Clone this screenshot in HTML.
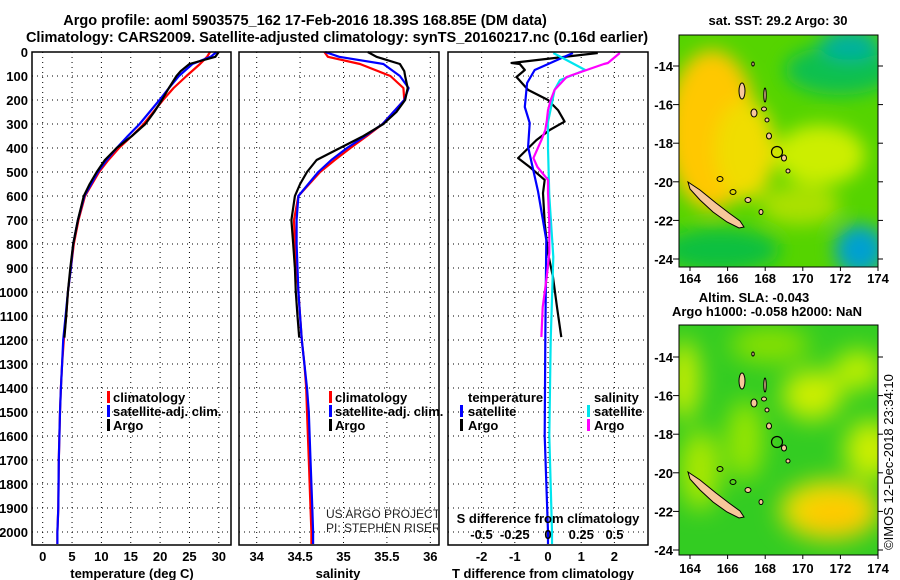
<!DOCTYPE html>
<html><head><meta charset="utf-8">
<style>
body{margin:0;background:#fff;}
svg{display:block;font-family:"Liberation Sans",Arial,sans-serif;}
.b{font-weight:bold;font-size:13px;}
.t{font-weight:bold;font-size:14.5px;}
</style></head>
<body>
<svg id="fig" width="900" height="580" viewBox="0 0 900 580" xmlns="http://www.w3.org/2000/svg">
<text class="t" x="305" y="25" text-anchor="middle">Argo profile: aoml 5903575_162 17-Feb-2016 18.39S 168.85E (DM data)</text>
<text class="t" x="337" y="42" text-anchor="middle">Climatology: CARS2009. Satellite-adjusted climatology: synTS_20160217.nc (0.16d earlier)</text>
<g id="panels"></g>
<defs>
<filter id="blr" x="-50%" y="-50%" width="200%" height="200%"><feGaussianBlur stdDeviation="9"/></filter>
<filter id="blr2" x="-50%" y="-50%" width="200%" height="200%"><feGaussianBlur stdDeviation="12"/></filter>
<clipPath id="cm1"><rect x="679" y="35" width="199" height="232"/></clipPath>
<clipPath id="cm2"><rect x="679" y="325" width="199" height="230"/></clipPath>
</defs>
<text class="b" x="778" y="25" text-anchor="middle">sat. SST: 29.2 Argo: 30</text>
<g clip-path="url(#cm1)">
<rect x="679" y="35" width="199" height="232" fill="#55d400"/>
<g filter="url(#blr)">
<ellipse cx="712" cy="130" rx="45" ry="80" fill="#ffc800"/>
<ellipse cx="745" cy="150" rx="30" ry="50" fill="#f0dd00"/>
<ellipse cx="820" cy="155" rx="45" ry="30" fill="#ccee00"/>
<ellipse cx="840" cy="70" rx="55" ry="25" fill="#10c050"/>
<ellipse cx="850" cy="45" rx="30" ry="15" fill="#00b0a0"/>
<ellipse cx="720" cy="250" rx="60" ry="22" fill="#10c040"/>
<ellipse cx="860" cy="250" rx="25" ry="25" fill="#00a0d0"/>
<ellipse cx="800" cy="205" rx="40" ry="20" fill="#aae000"/>
</g>
</g>
<rect x="679" y="35" width="199" height="232" fill="none" stroke="#000"/>
<g id="isl1"></g>
<text class="b" x="754" y="302" text-anchor="middle">Altim. SLA: -0.043</text>
<text class="b" x="767" y="316" text-anchor="middle">Argo h1000: -0.058 h2000: NaN</text>
<g clip-path="url(#cm2)">
<rect x="679" y="325" width="199" height="230" fill="#33cc22"/>
<g filter="url(#blr2)">
<ellipse cx="684" cy="380" rx="15" ry="40" fill="#ccee00"/>
<ellipse cx="745" cy="440" rx="18" ry="40" fill="#99e600"/>
<ellipse cx="812" cy="395" rx="30" ry="25" fill="#ccee00"/>
<ellipse cx="858" cy="370" rx="25" ry="20" fill="#bbee00"/>
<ellipse cx="870" cy="450" rx="25" ry="30" fill="#ccee00"/>
<ellipse cx="700" cy="470" rx="20" ry="40" fill="#aae800"/>
<ellipse cx="830" cy="510" rx="50" ry="30" fill="#eedd00"/>
<ellipse cx="835" cy="515" rx="35" ry="18" fill="#ffc800"/>
<ellipse cx="770" cy="345" rx="40" ry="18" fill="#88e000"/>
</g>
</g>
<rect x="679" y="325" width="199" height="230" fill="none" stroke="#000"/>
<g id="isl2"></g>
<g id="mapaxes"></g>
<text x="893" y="462" transform="rotate(-90 893 462)" text-anchor="middle" font-size="13">©IMOS 12-Dec-2018 23:34:10</text>
</svg>
<script>
// ---- data (depth in dbar) ----
const tDepth=[0,20,50,100,150,200,300,350,400,450,500,600,700,800,900,1000,1100,1200,1300,1400,1500,1700,1900,2000,2050];
const tClim=[28.5,28,26.8,24.5,22.3,20.5,17.2,15.2,13,11.2,9.6,7.2,6.1,5.3,4.8,4.3,4.0,3.6,3.3,3.1,2.95,2.75,2.65,2.5,2.5];
const tSat=[29.6,28.6,25.5,23.2,21.5,19.9,16.5,14.5,12.6,10.9,9.4,7.1,6.0,5.2,4.8,4.3,3.9,3.5,3.3,3.1,2.95,2.75,2.65,2.5,2.5];
const argoDepth=[0,20,50,80,100,150,200,250,300,350,400,450,500,550,600,700,800,900,1000,1100,1190];
const tArgo=[30,29.4,25,23.5,22.8,21.5,20.3,19,17.5,15.2,12.6,10.6,9.2,8,7,6,5.2,4.7,4.3,4.0,3.7];
const sClim=[34.78,34.82,35.19,35.54,35.69,35.7,35.45,35.27,35.08,34.9,34.73,34.48,34.43,34.44,34.46,34.48,34.5,34.52,34.55,34.57,34.58,34.6,34.62,34.63,34.63];
const sSat=[34.79,34.95,35.46,35.65,35.75,35.7,35.45,35.25,35.04,34.86,34.71,34.48,34.46,34.46,34.47,34.48,34.5,34.52,34.55,34.58,34.6,34.62,34.64,34.65,34.65];
const sArgo=[35.28,35.38,35.65,35.7,35.71,35.74,35.71,35.61,35.46,35.23,34.96,34.69,34.58,34.5,34.44,34.4,34.42,34.44,34.45,34.47,34.49];
const dtDepth=[4,46,50,75,104,158,200,242,290,325,367,442,479,533,588,713,838,938,1063,1188];
const dtArgo=[1.5,-1.1,-0.85,-0.7,-0.95,-0.6,0,0.3,0.5,0.05,-0.35,-0.9,-0.55,-0.1,-0.15,-0.1,0,0.15,0.27,0.4];
const dsArgo=[0.54,0.45,0.42,0.29,0.14,0.05,0.02,0.0,-0.01,-0.02,-0.05,-0.11,-0.08,0,0,0.01,0.01,-0.01,-0.04,-0.05];
const dsDepth=[4,75,117,158,292,400,600,854,1200,1600,2000,2050];
const dtSat=[0.75,-0.4,-0.63,-0.7,-0.55,-0.6,-0.3,-0.05,-0.08,-0.1,0,0];
const dsSat=[0.04,0.28,0.09,0.05,0,0,0.01,0.04,0.02,0.01,0.03,0.03];
const dtSatDepth=[4,75,129,229,296,396,580,783,1200,1600,2000,2050];
const depthTicks=[0,100,200,300,400,500,600,700,800,900,1000,1100,1200,1300,1400,1500,1600,1700,1800,1900,2000];
const tTicks=[0,5,10,15,20,25,30];
const sTicks=[34,34.5,35,35.5,36];
const dtTicks=[-2,-1,0,1,2];
const dsTicks=[-0.5,-0.25,0,0.25,0.5];

const NS='http://www.w3.org/2000/svg';
const G=document.getElementById('panels');
function mk(tag,attrs,parent){const e=document.createElementNS(NS,tag);for(const k in attrs)e.setAttribute(k,attrs[k]);(parent||G).appendChild(e);return e;}
const Y0=52,PY=0.24,YB=545;
const yOf=d=>Y0+d*PY;
const P1={l:32,r:231,x:v=>42.7+v*5.87};
const P2={l:239,r:439,x:v=>256.7+(v-34)*86.8};
const P3={l:448,r:648,x:v=>548+v*33.2};
const xS3=v=>548+v*133;

function frame(P,name){
  const g=mk('g',{});
  
  
  return g;
}
function grid(P,g,ticks,xf){
  depthTicks.forEach(d=>{const l=mk('line',{x1:P.l,x2:P.r,y1:yOf(d),y2:yOf(d),stroke:'#000','stroke-width':1,'stroke-dasharray':'1,4'},g);
    
    });
  ticks.forEach(v=>{const l=mk('line',{x1:xf(v),x2:xf(v),y1:Y0,y2:YB,stroke:'#000','stroke-width':1,'stroke-dasharray':'1,4'},g);
    
    });
}
function line(g,xs,ds,xf,col,name){
  const p=mk('polyline',{points:xs.map((v,i)=>xf(v).toFixed(1)+','+yOf(ds[i]).toFixed(1)).join(' '),fill:'none',stroke:col,'stroke-width':2.2,'stroke-linejoin':'round'},g);
  
  
}
function box(P,g){const r=mk('rect',{x:P.l,y:Y0,width:P.r-P.l,height:YB-Y0,fill:'none',stroke:'#000','stroke-width':1.5},g);
  
  }
function xlabels(g,ticks,xf,y){ticks.forEach(v=>{const t=mk('text',{x:xf(v),y:y,'text-anchor':'middle',class:'b'},g);t.textContent=String(v);
  
  });}
function txt(g,x,y,s,name,extra){const t=mk('text',Object.assign({x:x,y:y,class:'b'},extra||{}),g);t.textContent=s;
  
  return t;}
function mark(g,x,y,col){const r=mk('rect',{x:x,y:y-11,width:3,height:12,fill:col},g);
  
  }

// Panel 1
const g1=frame(P1,'temperature-panel');
grid(P1,g1,tTicks,P1.x);
line(g1,tClim,tDepth,P1.x,'#f00','temp-climatology-line');
line(g1,tSat,tDepth,P1.x,'#00f','temp-satellite-line');
line(g1,tArgo,argoDepth,P1.x,'#000','temp-argo-line');
box(P1,g1);
depthTicks.forEach(d=>{txt(g1,28,yOf(d)+5,String(d),'depth-tick-label',{'text-anchor':'end'});});
xlabels(g1,tTicks,P1.x,561);
txt(g1,132,578,'temperature (deg C)','temperature-axis-title',{'text-anchor':'middle'});
[['climatology','#f00'],['satellite-adj. clim.','#00f'],['Argo','#000']].forEach((e,i)=>{mark(g1,107,402+i*14,e[1]);txt(g1,113,402+i*14,e[0],'legend-entry');});

// Panel 2
const g2=frame(P2,'salinity-panel');
grid(P2,g2,sTicks,P2.x);
line(g2,sClim,tDepth,P2.x,'#f00','sal-climatology-line');
line(g2,sSat,tDepth,P2.x,'#00f','sal-satellite-line');
line(g2,sArgo,argoDepth,P2.x,'#000','sal-argo-line');
box(P2,g2);
xlabels(g2,sTicks,P2.x,561);
txt(g2,338,578,'salinity','salinity-axis-title',{'text-anchor':'middle'});
[['climatology','#f00'],['satellite-adj. clim.','#00f'],['Argo','#000']].forEach((e,i)=>{mark(g2,329,402+i*14,e[1]);txt(g2,335,402+i*14,e[0],'legend-entry');});
const cp=mk('clipPath',{id:'cp2'},g2);mk('rect',{x:239,y:400,width:199,height:150},cp);
const cg=mk('g',{'clip-path':'url(#cp2)'},g2);
const a1=mk('text',{x:326,y:518,'font-size':12,'font-family':'Liberation Sans, sans-serif',fill:'#222'},cg);a1.textContent='US ARGO PROJECT';


const a2=mk('text',{x:326,y:532,'font-size':12,'font-family':'Liberation Sans, sans-serif',fill:'#222'},cg);a2.textContent='PI: STEPHEN RISER';



// Panel 3
const g3=frame(P3,'difference-panel');
grid(P3,g3,dtTicks,P3.x);
line(g3,dtArgo,dtDepth,P3.x,'#000','dt-argo-line');
line(g3,dtSat,dtSatDepth,P3.x,'#00f','dt-satellite-line');
line(g3,dsSat,dsDepth,xS3,'#00e5ee','ds-satellite-line');
line(g3,dsArgo,dtDepth,xS3,'#f0f','ds-argo-line');
box(P3,g3);
xlabels(g3,dtTicks,P3.x,561);
xlabels(g3,dsTicks,xS3,539);
txt(g3,548,523,'S difference from climatology','s-diff-axis-title',{'text-anchor':'middle'});
txt(g3,543,578,'T difference from climatology','t-diff-axis-title',{'text-anchor':'middle'});
txt(g3,468,402,'temperature','legend-title-temperature');
mark(g3,460,416,'#00f');txt(g3,468,416,'satellite','legend-entry');
mark(g3,460,430,'#000');txt(g3,468,430,'Argo','legend-entry');
txt(g3,594,402,'salinity','legend-title-salinity');
mark(g3,587,416,'#00e5ee');txt(g3,594,416,'satellite','legend-entry');
mark(g3,587,430,'#f0f');txt(g3,594,430,'Argo','legend-entry');

// Map axes & islands
const MA=document.getElementById('mapaxes');
const lonX=lon=>690+(lon-164)*18.8;
[[66,'t'],[357,'b']].forEach(([y14,w])=>{
  [-14,-16,-18,-20,-22,-24].forEach(lat=>{const y=y14+(-lat-14)*19.3;
    txt(MA,673,y+5,String(lat),'map-lat-label',{'text-anchor':'end'});
    const l=mk('line',{x1:673,x2:679,y1:y,y2:y,stroke:'#000'},MA);
    
    
    const l2=mk('line',{x1:878,x2:883,y1:y,y2:y,stroke:'#000'},MA);
    
    });
  const yb=w==='t'?267:555, yl=w==='t'?283:573;
  [164,166,168,170,172,174].forEach(lon=>{
    txt(MA,lonX(lon),yl,String(lon),'map-lon-label',{'text-anchor':'middle'});
    const l=mk('line',{x1:lonX(lon),x2:lonX(lon),y1:yb,y2:yb+4,stroke:'#000'},MA);
    
    });
});
function islands(id,dy){
  const g=document.getElementById(id);
  const nc=mk('polygon',{points:'688,182 700,190 716,203 729,213 740,221 744,227 739,228 727,222 713,212 700,200 690,189',fill:'#f7c79a',stroke:'#000','stroke-width':1,transform:'translate(0,'+dy+')'},g);
  
  
  [[742,91,3,8],[754,113,3,4],[765,95,1.2,7],[764,109,2.5,2],[769,136,2.5,3],[767,120,2,2],[784,158,2.5,3],[788,171,2,2],[753,64,1.2,2],[748,200,3,2.5],[761,212,2,2.5]].forEach(e=>{
    const el=mk('ellipse',{cx:e[0],cy:e[1]+dy,rx:e[2],ry:e[3],fill:'#f7c79a',stroke:'#000','stroke-width':1},g);
    
    });
  [[720,179,3,2.5],[733,192,3,2.5]].forEach(e=>{const el=mk('ellipse',{cx:e[0],cy:e[1]+dy,rx:e[2],ry:e[3],fill:'none',stroke:'#000'},g);
    
    });
  const c=mk('circle',{cx:777,cy:152+dy,r:5.5,fill:'none',stroke:'#000','stroke-width':1.2},g);
  
  
}
islands('isl1',0);islands('isl2',290);
</script>
</body></html>
